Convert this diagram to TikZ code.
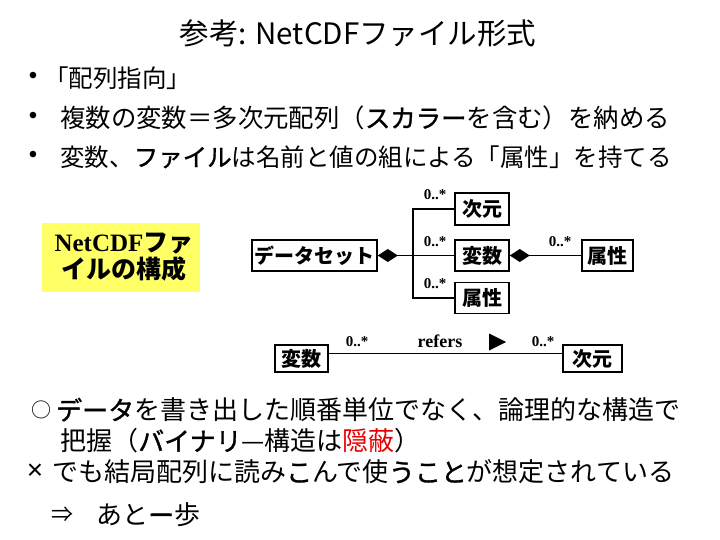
\documentclass[tikz,border=0pt]{standalone}
\usepackage{fontspec}
\setmainfont{Noto Sans CJK JP}
\newfontfamily\tms{Liberation Serif}
\newfontfamily\ars{Liberation Sans}
\newfontfamily\mbold[FakeBold=1.2]{Noto Sans CJK JP}
\usetikzlibrary{arrows.meta}
\definecolor{boxyellow}{RGB}{255,255,102}
\definecolor{hired}{RGB}{230,0,0}
\begin{document}
\begin{tikzpicture}[x=1pt,y=-1pt,
  cls/.style={draw, line width=1.6pt, inner sep=0pt, font=\fontsize{20}{22}\selectfont\bfseries},
  mult/.style={font=\tms\fontsize{15}{16}\selectfont\bfseries, inner sep=0pt},
  conn/.style={line width=1.6pt},
  body/.style={anchor=west, inner sep=0pt, font=\fontsize{24.5}{26}\selectfont},
  lower/.style={anchor=west, inner sep=0pt, font=\fontsize{26}{28}\selectfont},
  bul/.style={inner sep=0pt, font=\ars\fontsize{24}{26}\selectfont}]
\useasboundingbox (0,0) rectangle (720,540);

% title
\node[font=\fontsize{29.5}{31}\selectfont, inner sep=0pt] (title) at (358,33) {参考: NetCDFファイル形式};

% bullets
\node[bul] (b1) at (33,78) {•};
\node[bul] (b2) at (33,118) {•};
\node[bul] (b3) at (33,157) {•};
\node[body] (t1) at (44,78) {「配列指向」};
\node[body, font=\fontsize{25.4}{27}\selectfont] (t2) at (60,118) {複数の変数＝多次元配列（{\mbold スカラー}を含む）を納める};
\node[body] (t3) at (60,157) {変数、{\mbold ファイル}は名前と値の組による「属性」を持てる};

% yellow box
\node[fill=boxyellow, minimum width=158, minimum height=69, inner sep=0pt] (yb) at (121,257.5) {};
\node[align=center, inner sep=0pt, font=\fontsize{25}{27}\selectfont\bfseries] (ybt) at (124,257) {{\tms NetCDF}ファ\\イルの構成};

% class diagram
\node[cls, minimum width=125, minimum height=31] (ds) at (314.5,255.5) {データセット};
\node[cls, minimum width=54, minimum height=32] (jg1) at (482,209) {次元};
\node[cls, minimum width=54, minimum height=31] (hs1) at (482,255.5) {変数};
\node[cls, minimum width=54, minimum height=31] (zk1) at (482,298) {属性};
\node[cls, minimum width=51, minimum height=31] (zk2) at (607.5,255.5) {属性};
\coordinate (jn) at (413,255.5);

\draw[conn, {Diamond[length=20pt,width=13pt]}-] (ds.east) -- (jn);
\draw[conn] (jg1.west) -| (jn) |- (zk1.west);
\draw[conn] (jn) -- (hs1.west);
\draw[conn, {Diamond[length=20pt,width=13pt]}-] (hs1.east) -- (zk2.west);

\node[mult] (m1) at (435,195) {0..*};
\node[mult] (m2) at (435,242) {0..*};
\node[mult] (m3) at (435,284) {0..*};
\node[mult] (m4) at (560,242) {0..*};

% refers association
\node[cls, minimum width=53, minimum height=27] (hs2) at (301.5,358.5) {変数};
\node[cls, minimum width=59, minimum height=27] (jg2) at (592.5,358.5) {次元};
\draw[conn] ([yshift=5pt]hs2.east) -- ([yshift=5pt]jg2.west);
\node[mult] (m5) at (357,342) {0..*};
\node[mult] (m6) at (543,342) {0..*};
\node[inner sep=0pt, font=\tms\fontsize{18}{19}\selectfont\bfseries] (refers) at (440,341) {refers};
\fill (489,333.5) -- (506,342) -- (489,350.5) -- cycle;

% bottom text
\node[inner sep=0pt, font=\fontsize{20}{22}\selectfont] (o) at (41,410) {○};
\node[lower] (u1) at (56,410) {{\mbold データ}を書き出した順番単位でなく、論理的な構造で};
\node[lower] (u2) at (60,441) {把握（{\mbold バイナリ}—構造は{\color{hired}隠蔽}）};
\node[inner sep=0pt, font=\ars\fontsize{28}{30}\selectfont] (x) at (35,472) {×};
\node[lower] (u3) at (52,472) {でも結局配列に読み{\mbold こ}んで使{\mbold うこと}が想定されている};
\node[inner sep=0pt, font=\fontsize{22}{24}\selectfont] (arr) at (62,515) {⇒};
\node[lower] (u4) at (96,515) {あと{\mbold ー}歩};
\end{tikzpicture}
\end{document}
